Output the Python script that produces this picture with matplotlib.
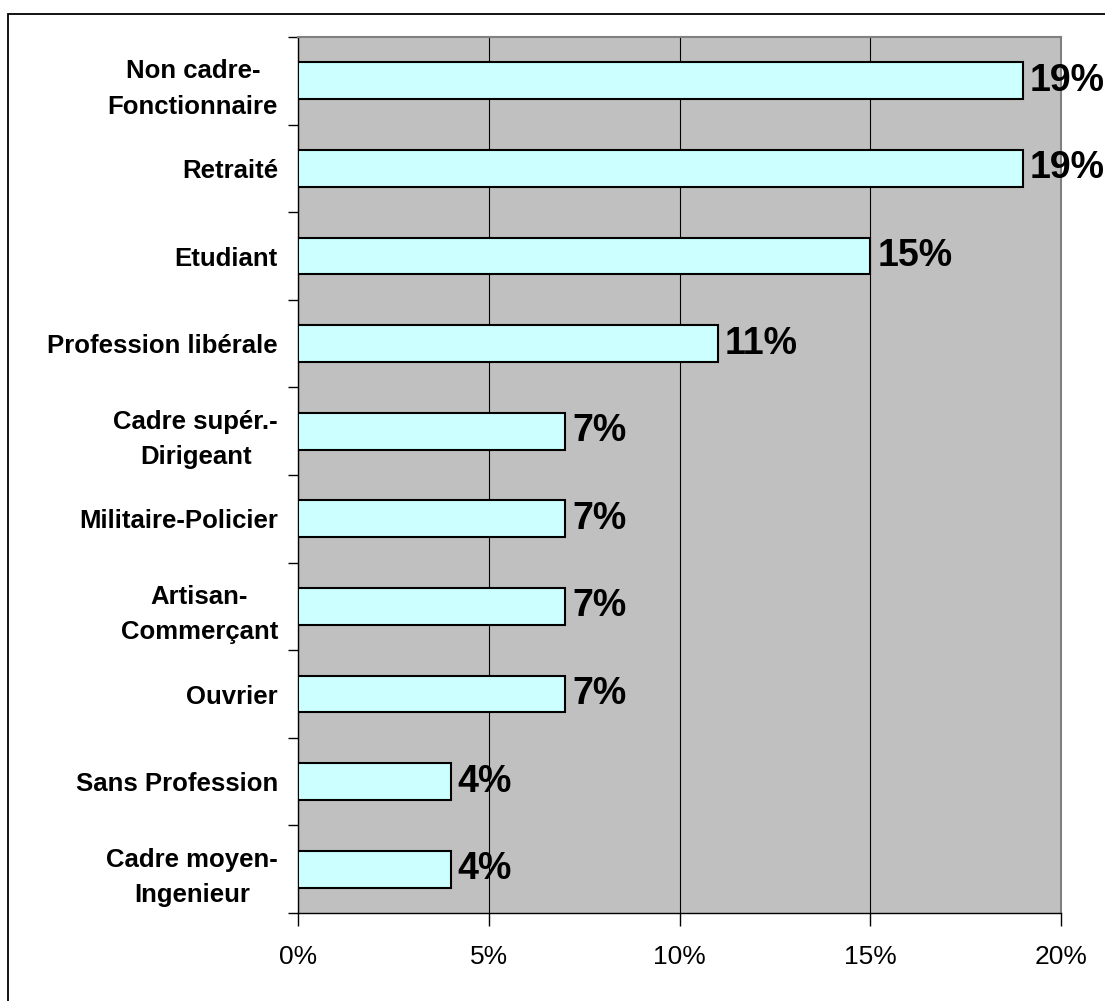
import matplotlib
matplotlib.use("Agg")
import matplotlib.pyplot as plt
import matplotlib.transforms as mtransforms
from matplotlib.patches import Rectangle
from matplotlib.ticker import FuncFormatter

plt.rcParams['font.family'] = ['Liberation Sans', 'DejaVu Sans']

categories = ["Non cadre-\nFonctionnaire", "Retraité", "Etudiant", "Profession libérale",
              "Cadre supér.-\nDirigeant", "Militaire-Policier", "Artisan-\nCommerçant",
              "Ouvrier", "Sans Profession", "Cadre moyen-\nIngenieur"]
values = [19, 19, 15, 11, 7, 7, 7, 7, 4, 4]
xticks = [0, 5, 10, 15, 20]

W, H = 1105, 1001
fig = plt.figure(figsize=(W / 100, H / 100), dpi=100)

# outer chart border (clipped at right and bottom)
fig.patches.append(Rectangle((8 / W, -0.05), 1.2, (H - 14) / H + 0.05,
                             transform=fig.transFigure, fill=False,
                             edgecolor='black', linewidth=1.3, zorder=0))

ax = fig.add_axes([298 / W, (H - 913) / H, (1061 - 298) / W, (913 - 37) / H])
ax.set_facecolor('#C0C0C0')

n = len(categories)
ypos = list(range(n))
ax.barh(ypos, values, height=0.42, color='#CCFFFF', edgecolor='black',
        linewidth=1.5, zorder=3)
ax.set_xlim(0, 20)
ax.set_ylim(n - 0.5, -0.5)

ax.set_xticks(xticks)
ax.xaxis.set_major_formatter(FuncFormatter(lambda v, p: f"{int(v)}%"))
ax.grid(axis='x', color='black', linewidth=0.8, zorder=1)
ax.set_axisbelow(True)

ax.set_yticks(ypos)
ax.set_yticklabels(categories, fontweight='bold', fontsize=18.5, ha='right',
                   multialignment='center')
ax.tick_params(axis='y', length=0, pad=0)
trans = mtransforms.blended_transform_factory(fig.transFigure, ax.transData)
for lbl in ax.get_yticklabels():
    lbl.set_transform(trans)
    lbl.set_x(278 / W)
    lbl.set_linespacing(1.6)

# minor ticks at category boundaries
ax.set_yticks([i - 0.5 for i in range(n + 1)], minor=True)
ax.tick_params(axis='y', which='minor', length=7, width=1, direction='out')
ax.tick_params(axis='x', which='major', length=9, width=1, direction='out',
               labelsize=19, pad=14)

for s in ['top', 'right']:
    ax.spines[s].set_color('#808080')
    ax.spines[s].set_linewidth(1.5)
for s in ['left', 'bottom']:
    ax.spines[s].set_color('black')
    ax.spines[s].set_linewidth(1.0)

for y, v in zip(ypos, values):
    ax.annotate(f"{v}%", xy=(v, y), xytext=(5, 0), textcoords='offset points',
                va='center', ha='left', fontsize=27, fontweight='bold',
                annotation_clip=False, zorder=5)

fig.savefig("out.png", dpi=100)
